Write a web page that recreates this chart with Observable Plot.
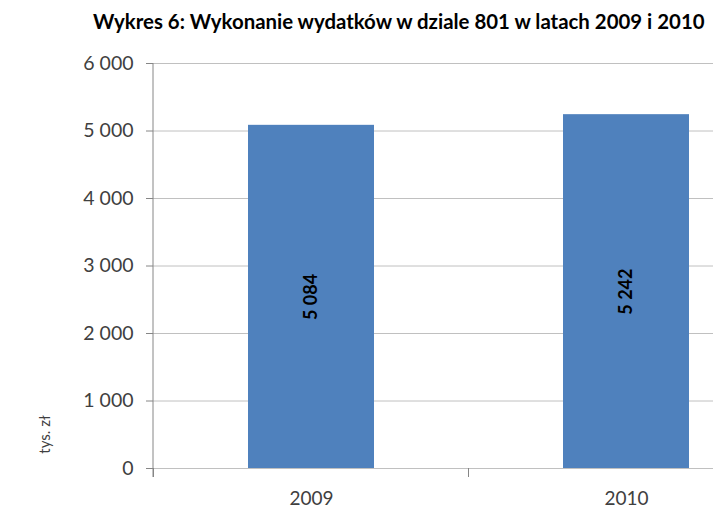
<!DOCTYPE html>
<html><head><meta charset="utf-8">
<script src="https://cdn.jsdelivr.net/npm/d3@7"></script>
<script src="https://cdn.jsdelivr.net/npm/@observablehq/plot@0.6"></script>
<style>
html,body{margin:0;padding:0;background:#fff;overflow:hidden;width:713px;height:510px}
#title{position:relative;height:45px;width:713px}
#title span{position:absolute;left:93px;top:10px;line-height:22px;white-space:nowrap;font-family:Lato,"Open Sans",sans-serif;font-weight:700;font-size:20.4px;color:#000}
#chart svg{overflow:hidden;display:block}
</style></head><body>
<div id="title"><span id="t"></span></div>
<div id="chart"></div>
<script>
const chartTitle = "Wykres 6: Wykonanie wydatków w dziale 801 w latach 2009 i 2010";
const years = ["2009", "2010"];
const values = [5084, 5242];
const valueLabels = ["5 084", "5 242"];
const yTicks = [0, 1000, 2000, 3000, 4000, 5000, 6000];
const yTickLabels = ["0", "1 000", "2 000", "3 000", "4 000", "5 000", "6 000"];
const yLabel = "tys. zł";

document.getElementById("t").textContent = chartTitle;

const data = years.map((y, i) => ({year: y, value: values[i], label: valueLabels[i]}));
const FONT = "Lato, 'Open Sans', sans-serif";
const AXIS = "#868686";

const axisDecor = (index, scales, values, dims) => {
  const x = scales.x, y = scales.y;
  const g = d3.create("svg:g").attr("stroke", AXIS).attr("fill", "none");
  const x0 = x.range()[0];
  g.append("line").attr("x1", x0).attr("x2", x0)
    .attr("y1", y(6000)).attr("y2", y(0) + 9);
  const gap = (x.step() - x.bandwidth()) / 2;
  const bounds = years.map(d => x(d) - gap);
  bounds.push(x(years[years.length - 1]) + x.bandwidth() + gap);
  for (const b of bounds) {
    g.append("line").attr("x1", b).attr("x2", b).attr("y1", y(0)).attr("y2", y(0) + 9);
  }
  return g.node();
};

const chart = Plot.plot({
  width: 713,
  height: 465,
  marginLeft: 153,
  marginRight: 0,
  marginTop: 18,
  marginBottom: 42,
  style: {fontFamily: FONT, background: "#fff"},
  x: {type: "band", domain: years, range: [153, 783], paddingInner: 0.6, paddingOuter: 0.3, label: null},
  y: {domain: [0, 6000], label: null},
  marks: [
    Plot.ruleY(yTicks, {stroke: "#c0c0c0", strokeWidth: 1}),
    Plot.barY(data, {x: "year", y: "value", fill: "#4F81BD"}),
    Plot.text(data, {x: "year", y: d => d.value / 2, text: "label", rotate: -90, fontWeight: "bold", fontSize: 18, fill: "#000"}),
    Plot.axisY(yTicks, {tickSize: 7, tickPadding: 13, stroke: AXIS, fill: "#404040", fontSize: 19.5,
      tickFormat: d => yTickLabels[yTicks.indexOf(d)], label: null}),
    Plot.axisX({tickSize: 0, tickPadding: 23, fill: "#404040", fontSize: 19, label: null}),
    Plot.text([yLabel], {frameAnchor: "bottom-left", textAnchor: "middle", lineAnchor: "middle", dx: -108, dy: -34, rotate: -90, fontSize: 15, fill: "#404040"}),
    axisDecor
  ]
});
document.getElementById("chart").appendChild(chart);
</script>
</body></html>
